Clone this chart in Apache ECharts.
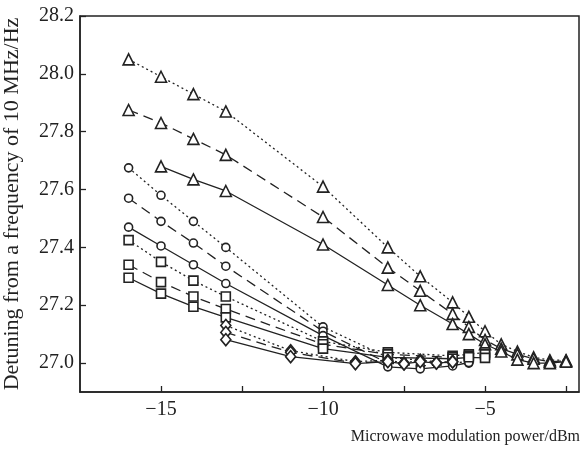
<!DOCTYPE html>
<html>
<head>
<meta charset="utf-8" />
<title></title>
<script src="https://cdn.jsdelivr.net/npm/echarts@6/dist/echarts.min.js"></script>
</head>
<body style="margin:0">
<div id="demo1" style="width: 584px;height: 451px;"></div>
<script type="text/javascript">
// x positions (dBm) for each marker family
var xTri = [-16, -15, -14, -13, -10, -8, -7, -6, -5.5, -5, -4.5, -4, -3.5, -3, -2.5];
var xTriSolid = [-15, -14, -13, -10, -8, -7, -6, -5.5, -5, -4.5, -4, -3.5, -3, -2.5];
var xCir = [-16, -15, -14, -13, -10, -8, -7, -6, -5.5];
var xSq = [-16, -15, -14, -13, -10, -8, -6, -5.5, -5];
var xDia = [-13, -11, -9, -8, -7.5, -7, -6.5, -6];

// detuning (Hz)
var triDot = [28.05, 27.99, 27.93, 27.87, 27.61, 27.40, 27.30, 27.21, 27.16, 27.11, 27.065, 27.04, 27.02, 27.01, 27.01];
var triDash = [27.875, 27.83, 27.775, 27.72, 27.505, 27.33, 27.25, 27.17, 27.125, 27.08, 27.05, 27.03, 27.015, 27.005, 27.008];
var triSolid = [27.68, 27.635, 27.595, 27.41, 27.27, 27.20, 27.135, 27.10, 27.065, 27.04, 27.012, 27.0, 27.0, 27.005];
var cirDot = [27.675, 27.58, 27.49, 27.40, 27.125, 27.02, 27.01, 27.0, 27.005];
var cirDash = [27.57, 27.49, 27.415, 27.335, 27.11, 27.0, 26.99, 26.995, 27.0];
var cirSolid = [27.47, 27.405, 27.34, 27.275, 27.095, 26.987, 26.98, 26.99, 27.002];
var sqDot = [27.425, 27.35, 27.285, 27.23, 27.075, 27.037, 27.025, 27.03, 27.037];
var sqDash = [27.34, 27.28, 27.23, 27.187, 27.065, 27.03, 27.02, 27.025, 27.03];
var sqSolid = [27.295, 27.24, 27.195, 27.158, 27.05, 27.02, 27.015, 27.02, 27.018];
var diaDot = [27.13, 27.043, 27.005, 27.01, 27.0, 27.01, 27.0, 27.006];
var diaDash = [27.106, 27.037, 27.0, 27.006, 26.998, 27.007, 27.0, 27.005];
var diaSolid = [27.081, 27.022, 26.998, 27.005, 26.997, 27.005, 27.0, 27.004];

var yTicks = [27.0, 27.2, 27.4, 27.6, 27.8, 28.0, 28.2];
var xLabels = [-15, -10, -5];
var xTicks = [-15, -12.5, -10, -7.5, -5, -2.5];

function pairs(xs, ys) {
	return xs.map(function (x, i) { return [x, ys[i]]; });
}

var dashes = { dot: [2, 3], dash: [10, 6], solid: 'solid' };

function mk(xs, ys, sym, size, style) {
	return {
		type: 'line',
		data: pairs(xs, ys),
		symbol: sym,
		symbolSize: size,
		showAllSymbol: true,
		lineStyle: { color: '#222', width: 1.3, type: dashes[style] },
		itemStyle: { color: '#fff', borderColor: '#222', borderWidth: 1.6 },
		z: 2
	};
}

var myChart = echarts.init(document.getElementById('demo1'));
var font = 'Liberation Serif';
myChart.setOption({
	animation: false,
	grid: { left: 80, right: 5, top: 16, bottom: 59, show: true, borderColor: '#222', borderWidth: 1.5, containLabel: false, outerBoundsMode: 'none' },
	xAxis: {
		type: 'value',
		min: -17.5,
		max: -2.1,
		name: 'Microwave modulation power/dBm',
		nameLocation: 'end',
		nameGap: 1,
		nameTextStyle: { fontFamily: font, fontSize: 16, color: '#222', align: 'right', verticalAlign: 'top', padding: [37, 0, 0, 0] },
		splitLine: { show: false },
		axisLine: { lineStyle: { color: '#222', width: 1.5 } },
		axisTick: { inside: true, length: 6, customValues: xTicks, lineStyle: { color: '#222', width: 1.3 } },
		axisLabel: {
			customValues: xLabels,
			fontFamily: font, fontSize: 20, color: '#222', margin: 8,
			formatter: function (v) { return String(v).replace('-', '\u2212'); }
		}
	},
	yAxis: {
		type: 'value',
		min: 26.9,
		max: 28.2,
		name: 'Detuning from a frequency of 10 MHz/Hz',
		nameLocation: 'middle',
		nameGap: 57,
		nameTextStyle: { fontFamily: font, fontSize: 22, color: '#222' },
		splitLine: { show: false },
		axisLine: { lineStyle: { color: '#222', width: 1.5 } },
		axisTick: { inside: true, length: 6, customValues: yTicks, lineStyle: { color: '#222', width: 1.3 } },
		axisLabel: {
			customValues: yTicks,
			fontFamily: font, fontSize: 20, color: '#222', margin: 6,
			formatter: function (v) { return v.toFixed(1); }
		}
	},
	series: [
		mk(xTri, triDot, 'triangle', 11, 'dot'),
		mk(xTri, triDash, 'triangle', 11, 'dash'),
		mk(xTriSolid, triSolid, 'triangle', 11, 'solid'),
		mk(xCir, cirDot, 'circle', 8, 'dot'),
		mk(xCir, cirDash, 'circle', 8, 'dash'),
		mk(xCir, cirSolid, 'circle', 8, 'solid'),
		mk(xSq, sqDot, 'rect', 9, 'dot'),
		mk(xSq, sqDash, 'rect', 9, 'dash'),
		mk(xSq, sqSolid, 'rect', 9, 'solid'),
		mk(xDia, diaDot, 'diamond', [10, 12], 'dot'),
		mk(xDia, diaDash, 'diamond', [10, 12], 'dash'),
		mk(xDia, diaSolid, 'diamond', [10, 12], 'solid')
	]
});
</script>
</body>
</html>
